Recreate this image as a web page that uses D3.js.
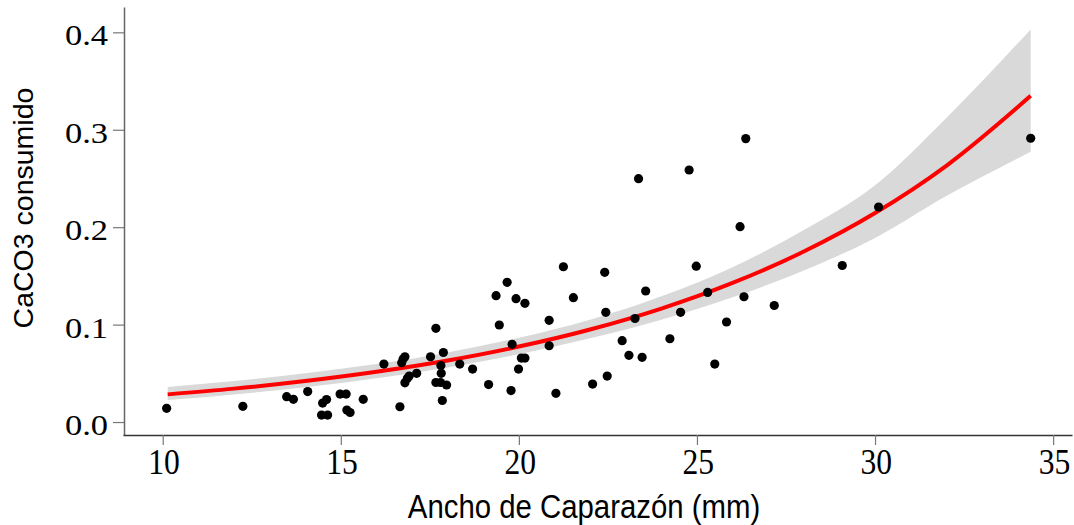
<!DOCTYPE html>
<html><head><meta charset="utf-8">
<script src="https://cdn.jsdelivr.net/npm/d3@7"></script>
<style>body{margin:0;background:#fff} svg{display:block}</style>
</head><body>
<svg id="chart" width="1074" height="525"></svg>
<script>
// Observed data: carapace width (mm) and CaCO3 consumed
const widthX = [10.11,12.25,13.48,13.67,14.07,14.49,14.60,14.46,14.63,14.98,15.15,15.17,15.26,15.63,
  16.21,16.71,16.75,16.80,16.80,16.87,16.92,17.13,16.66,17.52,17.88,17.81,17.82,17.67,17.80,17.97,17.85,
  18.34,17.67,18.70,19.15,19.36,19.45,19.67,19.78,19.81,19.92,19.99,20.07,20.17,20.17,20.85,20.85,21.04,
  21.25,21.53,22.07,22.41,22.44,22.48,22.90,23.09,23.26,23.46,23.56,24.24,24.54,24.98,25.30,25.50,25.83,
  26.32,27.17,26.37,24.78,23.36,26.21,29.08,34.37,30.10];
const caco3 = [0.0141,0.0161,0.0260,0.0233,0.0313,0.0195,0.0231,0.0072,0.0072,0.0287,0.0287,0.0123,0.0098,0.0233,
  0.0595,0.0609,0.0647,0.0670,0.0403,0.0449,0.0472,0.0500,0.0157,0.0670,0.0714,0.0580,0.0500,0.0406,0.0406,0.0380,0.0221,
  0.0595,0.0962,0.0544,0.0385,0.1297,0.0996,0.1434,0.0323,0.0798,0.1266,0.0544,0.0657,0.0657,0.1219,0.1044,0.0783,0.0295,
  0.1594,0.1276,0.0390,0.1537,0.1126,0.0472,0.0835,0.0685,0.1063,0.0664,0.1345,0.0855,0.1126,0.1600,0.1330,0.0595,0.1027,
  0.1286,0.1196,0.2909,0.2587,0.2498,0.2005,0.1607,0.2913,0.2207];

// Fitted curve and confidence band
const fitX     = [10.14, 12, 14, 16, 18, 20, 22, 24, 26, 28, 30, 32, 34.37];
const fitY     = [0.0284,0.0343,0.0421,0.0516,0.0632,0.0775,0.0950,0.1165,0.1428,0.1750,0.2145,0.2630,0.3348];
const fitUpper = [0.0360,0.0420,0.0500,0.0595,0.0715,0.0865,0.1050,0.1290,0.1590,0.1970,0.2430,0.3120,0.4030];
const fitLower = [0.0225,0.0283,0.0357,0.0449,0.0560,0.0695,0.0860,0.1050,0.1280,0.1555,0.1890,0.2320,0.2775];

const xTicks = [10, 15, 20, 25, 30, 35];
const yTicks = [0.0, 0.1, 0.2, 0.3, 0.4];
const xTitle = "Ancho de Caparazón (mm)";
const yTitle = "CaCO3 consumido";

const svg = d3.select("#chart");
const x = d3.scaleLinear().domain([8.885, 35.53]).range([123, 1072]);
const y = d3.scaleLinear().domain([-0.0133, 0.426]).range([435, 7]);

const fit = fitX.map((v, i) => ({x: v, y: fitY[i], lo: fitLower[i], hi: fitUpper[i]}));

// band
svg.append("path").datum(fit)
  .attr("fill", "#d9d9d9")
  .attr("d", d3.area().x(d => x(d.x)).y0(d => y(d.lo)).y1(d => y(d.hi)).curve(d3.curveMonotoneX));

// fitted line
svg.append("path").datum(fit)
  .attr("fill", "none").attr("stroke", "#ff0000").attr("stroke-width", 4)
  .attr("d", d3.line().x(d => x(d.x)).y(d => y(d.y)).curve(d3.curveMonotoneX));

// points
svg.append("g").selectAll("circle").data(widthX.map((v, i) => [v, caco3[i]]))
  .join("circle")
  .attr("cx", d => x(d[0])).attr("cy", d => y(d[1])).attr("r", 4.6).attr("fill", "#000");

// y axis
const gy = svg.append("g").attr("transform", "translate(124,0)")
  .call(d3.axisLeft(y).tickValues(yTicks).tickFormat(d3.format(".1f")).tickSize(11).tickSizeOuter(0));
gy.select(".domain").attr("stroke", "#666").attr("stroke-width", 1.5);
gy.selectAll(".tick line").attr("stroke", "#777").attr("stroke-width", 1.2);
gy.selectAll(".tick text")
  .attr("x", 0).attr("dy", "0.42em")
  .attr("transform", "translate(-16,0) scale(1.15,1)")
  .attr("font-family", "'Liberation Serif', 'Times New Roman', serif")
  .attr("font-size", 30).attr("fill", "#000");

// x axis
const gx = svg.append("g").attr("transform", "translate(0,435)")
  .call(d3.axisBottom(x).tickValues(xTicks).tickFormat(d3.format("d")).tickSize(10).tickSizeOuter(0));
gx.select(".domain").attr("stroke", "#333").attr("stroke-width", 1.6);
gx.selectAll(".tick line").attr("stroke", "#777").attr("stroke-width", 1.2);
gx.selectAll(".tick text")
  .attr("y", 0).attr("dy", 0)
  .attr("transform", "translate(0.8,39) scale(0.89,1)")
  .attr("font-family", "'Liberation Serif', 'Times New Roman', serif")
  .attr("font-size", 35.5).attr("fill", "#000");

// titles
svg.append("text")
  .attr("transform", "translate(584,518) scale(0.89,1)")
  .attr("text-anchor", "middle")
  .attr("font-family", "'Liberation Sans', Arial, sans-serif")
  .attr("font-size", 33).attr("fill", "#000")
  .text(xTitle);

svg.append("text")
  .attr("transform", "translate(33,208) rotate(-90)")
  .attr("text-anchor", "middle")
  .attr("font-family", "'Liberation Sans', Arial, sans-serif")
  .attr("font-size", 28.5).attr("fill", "#000")
  .text(yTitle);
</script>
</body></html>
